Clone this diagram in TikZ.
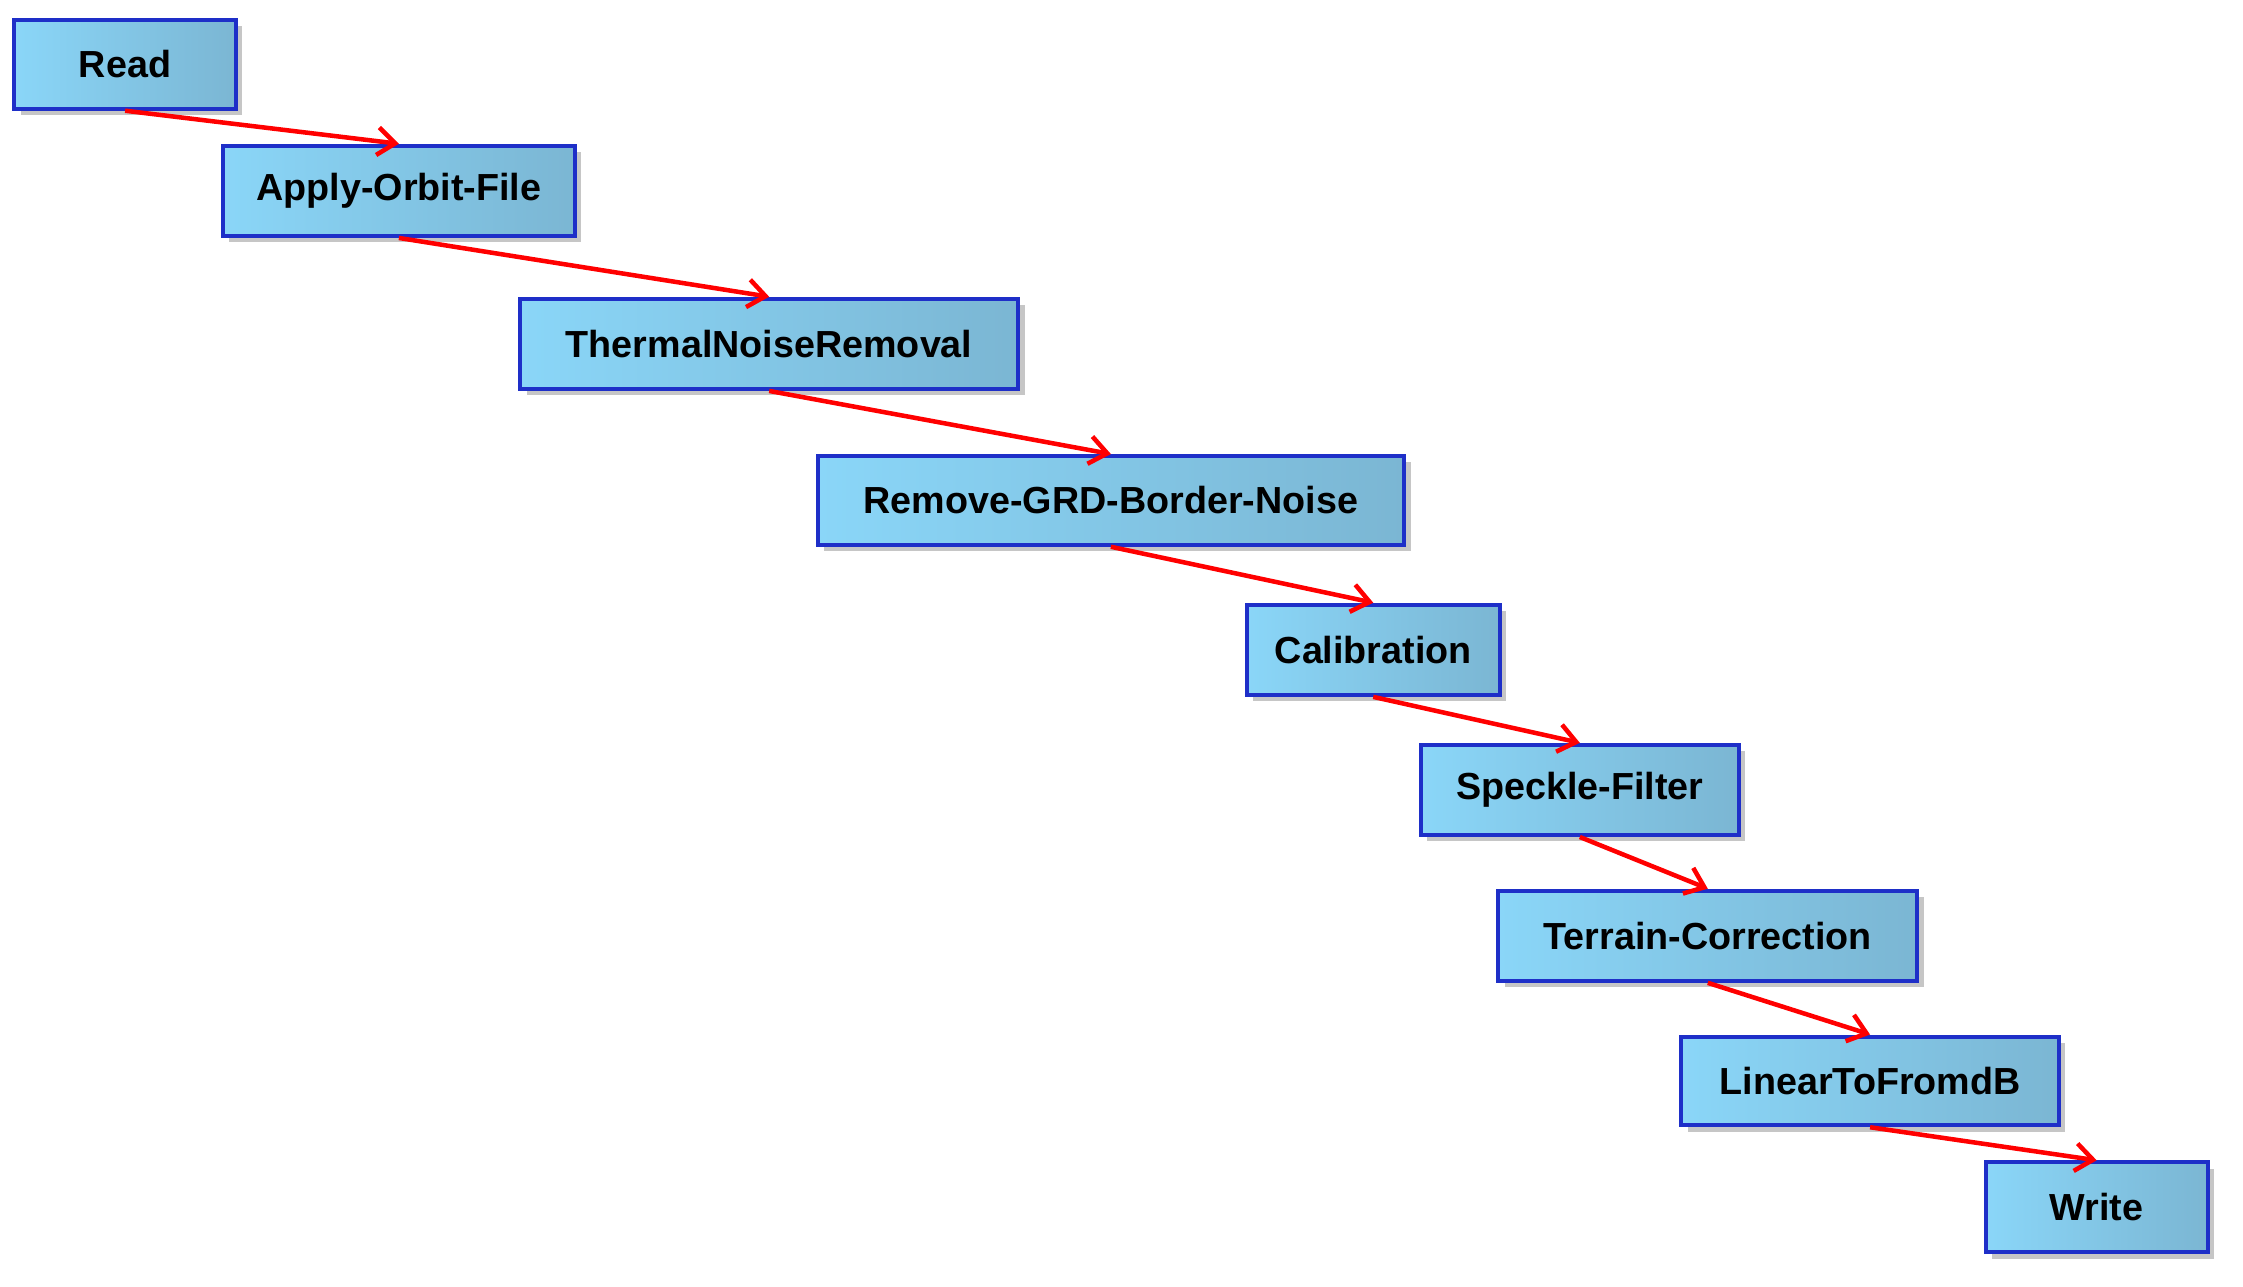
\documentclass[tikz,border=0pt]{standalone}
\usepackage{fontspec}
\setmainfont{Liberation Sans}
\usetikzlibrary{arrows.meta,shadows}
\definecolor{bord}{HTML}{1E2FC8}
\definecolor{fl}{HTML}{8AD6F8}
\definecolor{fr}{HTML}{7BB6D3}
\tikzset{
 box/.style={draw=bord, line width=1.6pt, left color=fl, right color=fr, inner sep=0pt,
   font=\fontsize{15}{15}\selectfont\bfseries, drop shadow={shadow xshift=0.09cm, shadow yshift=-0.09cm, opacity=0.45, fill=gray}},
 arr/.style={draw=red, line width=1.8pt, -{Straight Barb[length=7pt,width=11pt,line width=1.8pt]}}
}
\newcommand{\bx}[6]{% name, x1,y1,x2,y2,text
 \node[box, minimum width={(#4-#2)*0.02cm}, minimum height={(#5-#3)*0.02cm}] (#1) at ({(#2+#4)*0.01},{-(#3+#5)*0.01}) {#6};}
\begin{document}
\begin{tikzpicture}
\useasboundingbox (0,0) rectangle (31.36,-17.98);
\bx{a}{10}{14}{165}{76}{Read}
\bx{b}{156}{102}{402}{165}{Apply-Orbit-File}
\bx{c}{364}{209}{712}{272}{ThermalNoiseRemoval}
\bx{d}{572}{319}{982}{381}{Remove-GRD-Border-Noise}
\bx{e}{872}{423}{1049}{486}{Calibration}
\bx{f}{994}{521}{1216}{584}{Speckle-Filter}
\bx{g}{1048}{623}{1341}{686}{Terrain-Correction}
\bx{h}{1176}{725}{1440}{787}{LinearToFromdB}
\bx{i}{1389}{813}{1544}{876}{Write}
\foreach \s/\t in {a/b,b/c,c/d,d/e,e/f,f/g,g/h,h/i}
  \draw[arr] (\s.south) -- (\t.north);
\end{tikzpicture}
\end{document}
